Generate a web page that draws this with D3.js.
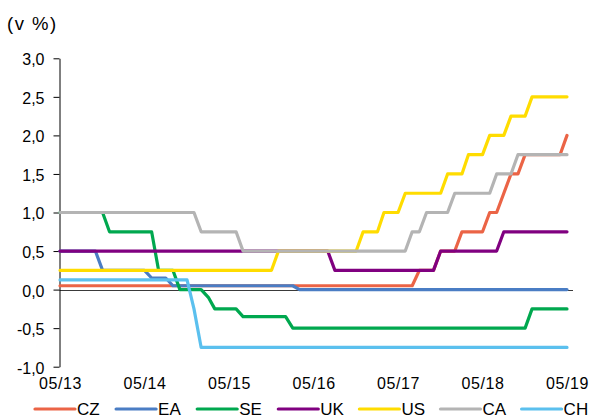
<!DOCTYPE html>
<html>
<head>
<meta charset="utf-8">
<script src="https://cdn.jsdelivr.net/npm/d3@7"></script>
<style>
  html, body { margin: 0; padding: 0; background: #fff; }
  svg { display: block; font-family: "Liberation Sans", Arial, sans-serif; }
</style>
</head>
<body>
<svg id="chart" width="591" height="419"></svg>
<script>
// Monthly policy rates, May 2013 – May 2019 (one value per month, in %)
const startMonth = new Date(Date.UTC(2013, 4, 1));
const endMonth = new Date(Date.UTC(2019, 4, 1));

const seriesNames = ["CZ", "EA", "SE", "UK", "US", "CA", "CH"];
const seriesColors = ["#EB6446", "#4A7DC4", "#00A84F", "#800080", "#FFDC00", "#B4B4B4", "#5BC0EE"];

// 2013: May..Dec | 2014: Jan..Dec | 2015 | 2016 | 2017 | 2018 | 2019: Jan..May
const CZ = [
  0.05, 0.05, 0.05, 0.05, 0.05, 0.05, 0.05, 0.05,
  0.05, 0.05, 0.05, 0.05, 0.05, 0.05, 0.05, 0.05, 0.05, 0.05, 0.05, 0.05,
  0.05, 0.05, 0.05, 0.05, 0.05, 0.05, 0.05, 0.05, 0.05, 0.05, 0.05, 0.05,
  0.05, 0.05, 0.05, 0.05, 0.05, 0.05, 0.05, 0.05, 0.05, 0.05, 0.05, 0.05,
  0.05, 0.05, 0.05, 0.05, 0.05, 0.05, 0.05, 0.25, 0.25, 0.25, 0.5, 0.5,
  0.5, 0.75, 0.75, 0.75, 0.75, 1.0, 1.0, 1.25, 1.5, 1.5, 1.75, 1.75,
  1.75, 1.75, 1.75, 1.75, 2.0
];
const EA = [
  0.5, 0.5, 0.5, 0.5, 0.5, 0.5, 0.25, 0.25,
  0.25, 0.25, 0.25, 0.25, 0.25, 0.15, 0.15, 0.15, 0.05, 0.05, 0.05, 0.05,
  0.05, 0.05, 0.05, 0.05, 0.05, 0.05, 0.05, 0.05, 0.05, 0.05, 0.05, 0.05,
  0.05, 0.05, 0, 0, 0, 0, 0, 0, 0, 0, 0, 0,
  0, 0, 0, 0, 0, 0, 0, 0, 0, 0, 0, 0,
  0, 0, 0, 0, 0, 0, 0, 0, 0, 0, 0, 0,
  0, 0, 0, 0, 0
];
const SE = [
  1.0, 1.0, 1.0, 1.0, 1.0, 1.0, 1.0, 0.75,
  0.75, 0.75, 0.75, 0.75, 0.75, 0.75, 0.25, 0.25, 0.25, 0, 0, 0,
  0, -0.1, -0.25, -0.25, -0.25, -0.25, -0.35, -0.35, -0.35, -0.35, -0.35, -0.35,
  -0.35, -0.5, -0.5, -0.5, -0.5, -0.5, -0.5, -0.5, -0.5, -0.5, -0.5, -0.5,
  -0.5, -0.5, -0.5, -0.5, -0.5, -0.5, -0.5, -0.5, -0.5, -0.5, -0.5, -0.5,
  -0.5, -0.5, -0.5, -0.5, -0.5, -0.5, -0.5, -0.5, -0.5, -0.5, -0.5, -0.25,
  -0.25, -0.25, -0.25, -0.25, -0.25
];
const UK = [
  0.5, 0.5, 0.5, 0.5, 0.5, 0.5, 0.5, 0.5,
  0.5, 0.5, 0.5, 0.5, 0.5, 0.5, 0.5, 0.5, 0.5, 0.5, 0.5, 0.5,
  0.5, 0.5, 0.5, 0.5, 0.5, 0.5, 0.5, 0.5, 0.5, 0.5, 0.5, 0.5,
  0.5, 0.5, 0.5, 0.5, 0.5, 0.5, 0.5, 0.25, 0.25, 0.25, 0.25, 0.25,
  0.25, 0.25, 0.25, 0.25, 0.25, 0.25, 0.25, 0.25, 0.25, 0.25, 0.5, 0.5,
  0.5, 0.5, 0.5, 0.5, 0.5, 0.5, 0.5, 0.75, 0.75, 0.75, 0.75, 0.75,
  0.75, 0.75, 0.75, 0.75, 0.75
];
const US = [
  0.25, 0.25, 0.25, 0.25, 0.25, 0.25, 0.25, 0.25,
  0.25, 0.25, 0.25, 0.25, 0.25, 0.25, 0.25, 0.25, 0.25, 0.25, 0.25, 0.25,
  0.25, 0.25, 0.25, 0.25, 0.25, 0.25, 0.25, 0.25, 0.25, 0.25, 0.25, 0.5,
  0.5, 0.5, 0.5, 0.5, 0.5, 0.5, 0.5, 0.5, 0.5, 0.5, 0.5, 0.75,
  0.75, 0.75, 1.0, 1.0, 1.0, 1.25, 1.25, 1.25, 1.25, 1.25, 1.25, 1.5,
  1.5, 1.5, 1.75, 1.75, 1.75, 2.0, 2.0, 2.0, 2.25, 2.25, 2.25, 2.5,
  2.5, 2.5, 2.5, 2.5, 2.5
];
const CA = [
  1.0, 1.0, 1.0, 1.0, 1.0, 1.0, 1.0, 1.0,
  1.0, 1.0, 1.0, 1.0, 1.0, 1.0, 1.0, 1.0, 1.0, 1.0, 1.0, 1.0,
  0.75, 0.75, 0.75, 0.75, 0.75, 0.75, 0.5, 0.5, 0.5, 0.5, 0.5, 0.5,
  0.5, 0.5, 0.5, 0.5, 0.5, 0.5, 0.5, 0.5, 0.5, 0.5, 0.5, 0.5,
  0.5, 0.5, 0.5, 0.5, 0.5, 0.5, 0.75, 0.75, 1.0, 1.0, 1.0, 1.0,
  1.25, 1.25, 1.25, 1.25, 1.25, 1.25, 1.5, 1.5, 1.5, 1.75, 1.75, 1.75,
  1.75, 1.75, 1.75, 1.75, 1.75
];
const CH = [
  0.125, 0.125, 0.125, 0.125, 0.125, 0.125, 0.125, 0.125,
  0.125, 0.125, 0.125, 0.125, 0.125, 0.125, 0.125, 0.125, 0.125, 0.125, 0.125, -0.25,
  -0.75, -0.75, -0.75, -0.75, -0.75, -0.75, -0.75, -0.75, -0.75, -0.75, -0.75, -0.75,
  -0.75, -0.75, -0.75, -0.75, -0.75, -0.75, -0.75, -0.75, -0.75, -0.75, -0.75, -0.75,
  -0.75, -0.75, -0.75, -0.75, -0.75, -0.75, -0.75, -0.75, -0.75, -0.75, -0.75, -0.75,
  -0.75, -0.75, -0.75, -0.75, -0.75, -0.75, -0.75, -0.75, -0.75, -0.75, -0.75, -0.75,
  -0.75, -0.75, -0.75, -0.75, -0.75
];
const seriesValues = [CZ, EA, SE, UK, US, CA, CH];

const yTickValues = [-1, -0.5, 0, 0.5, 1, 1.5, 2, 2.5, 3];
const yTickLabels = ["-1,0", "-0,5", "0,0", "0,5", "1,0", "1,5", "2,0", "2,5", "3,0"];
const xTickLabels = ["05/13", "05/14", "05/15", "05/16", "05/17", "05/18", "05/19"];
const unitLabel = "(v %)";

// ---- layout ----
const svg = d3.select("#chart");
const plot = { left: 60, right: 567, top: 58.3, bottom: 366.7 };

const months = d3.utcMonth.range(startMonth, d3.utcMonth.offset(endMonth, 1));
const x = d3.scaleUtc().domain([startMonth, endMonth]).range([plot.left, plot.right]);
const y = d3.scaleLinear().domain([-1, 3]).range([plot.bottom, plot.top]);

// unit label
svg.append("text")
  .attr("x", 7).attr("y", 23)
  .attr("dominant-baseline", "central")
  .attr("font-size", 18.5).attr("letter-spacing", "1.5px").attr("fill", "#000")
  .text(unitLabel);

// horizontal zero line
svg.append("line")
  .attr("x1", plot.left - 0.5).attr("x2", plot.right + 6)
  .attr("y1", Math.round(y(0)) + 0.5).attr("y2", Math.round(y(0)) + 0.5)
  .attr("stroke", "#3a3a3a").attr("stroke-width", 1);

// y axis
const yAxis = svg.append("g")
  .attr("transform", `translate(${plot.left - 0.5},0)`)
  .call(d3.axisLeft(y)
    .tickValues(yTickValues)
    .tickSize(6).tickSizeOuter(0).tickPadding(9)
    .tickFormat((d, i) => yTickLabels[i]));
yAxis.select(".domain").attr("stroke", "#000");
yAxis.selectAll(".tick line").attr("stroke", "#000");
yAxis.selectAll(".tick text")
  .attr("font-size", 16).attr("fill", "#000")
  .attr("font-family", "'Liberation Sans', Arial, sans-serif")
  .attr("dy", "0.4em");

// x axis labels, one per May (no line, labels below plot)
const xTicks = xTickLabels.map((_, k) => d3.utcMonth.offset(startMonth, 12 * k));
const xAxis = svg.append("g")
  .attr("transform", "translate(0,375)")
  .call(d3.axisBottom(x)
    .tickValues(xTicks)
    .tickSize(0).tickPadding(3)
    .tickFormat((d, i) => xTickLabels[i]));
xAxis.select(".domain").remove();
xAxis.selectAll(".tick text")
  .attr("font-size", 16).attr("fill", "#000")
  .attr("letter-spacing", "0.6px")
  .attr("font-family", "'Liberation Sans', Arial, sans-serif");

// series lines
const line = d3.line()
  .x(d => x(d.date))
  .y(d => y(d.v));

seriesNames.forEach((name, s) => {
  const pts = months.map((m, i) => ({ date: m, v: seriesValues[s][i] }));
  svg.append("path")
    .datum(pts)
    .attr("fill", "none")
    .attr("stroke", seriesColors[s])
    .attr("stroke-width", 3.2)
    .attr("stroke-linejoin", "round")
    .attr("stroke-linecap", "round")
    .attr("d", line);
});

// legend
const legend = svg.append("g").attr("transform", "translate(35,409)");
seriesNames.forEach((name, s) => {
  const g = legend.append("g").attr("transform", `translate(${s * 81.1},0)`);
  g.append("line")
    .attr("x1", 0).attr("x2", 40).attr("y1", 0).attr("y2", 0)
    .attr("stroke", seriesColors[s]).attr("stroke-width", 3.2)
    .attr("stroke-linecap", "round");
  g.append("text")
    .attr("x", 42).attr("y", 0)
    .attr("dominant-baseline", "central")
    .attr("font-size", 17).attr("fill", "#000")
    .text(name);
});
</script>
</body>
</html>
